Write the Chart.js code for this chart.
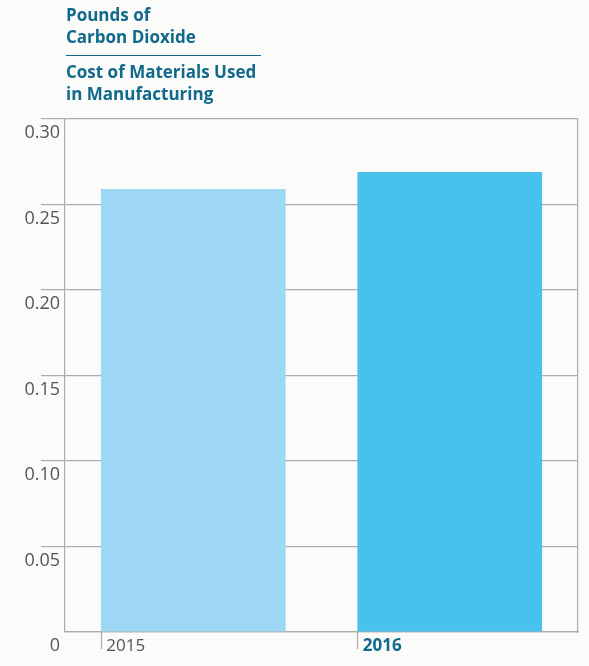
<!DOCTYPE html>
<html>
<head>
<meta charset="utf-8">
<script src="https://cdn.jsdelivr.net/npm/chart.js@4.4.1/dist/chart.umd.min.js"></script>
<style>
  body { margin: 0; background: #fbfbf9; }
  #wrap { position: relative; width: 589px; height: 666px; }
  #title {
    position: absolute; left: 66px; top: 4px;
    font-family: 'Open Sans', sans-serif; font-weight: bold;
    font-size: 17px; line-height: 22px; color: #11698c;
  }
  #title .sep { width: 195px; border-top: 1.5px solid #11698c; margin: 7px 0 5px; }
  canvas { position: absolute; left: 0; top: 0; }
</style>
</head>
<body>
<div id="wrap">
  <canvas id="chart" width="589" height="666"></canvas>
  <div id="title">
    <div>Pounds of<br>Carbon Dioxide</div>
    <div class="sep"></div>
    <div>Cost of Materials Used<br>in Manufacturing</div>
  </div>
</div>
<script>
// data
const years = ['2015', '2016'];
const co2PerCost = [0.259, 0.269];
const barColours = ['#9dd7f3', '#49c1ed'];
const yTicks = [0, 0.05, 0.10, 0.15, 0.20, 0.25, 0.30];

const GRID = '#acacac';
const TEAL = '#11698c';
const FONT = 'Open Sans';

// small tick marks under the x axis at the left edge of each bar
const yearTicks = {
  id: 'yearTicks',
  afterDatasetsDraw(chart) {
    const { ctx, chartArea } = chart;
    ctx.save();
    ctx.strokeStyle = GRID;
    ctx.lineWidth = 1.2;
    chart.getDatasetMeta(0).data.forEach(bar => {
      const x = Math.round(bar.x - bar.width / 2) + 0.5;
      ctx.beginPath();
      ctx.moveTo(x, chartArea.bottom);
      ctx.lineTo(x, chartArea.bottom + 17);
      ctx.stroke();
    });
    ctx.restore();
  }
};

new Chart(document.getElementById('chart'), {
  type: 'bar',
  data: {
    labels: years,
    datasets: [{
      data: co2PerCost,
      backgroundColor: barColours,
      borderWidth: 0,
      barPercentage: 0.72,
      categoryPercentage: 1
    }]
  },
  options: {
    responsive: false,
    animation: false,
    layout: { padding: { top: 119, right: 11, left: 0, bottom: 0 } },
    plugins: { legend: { display: false }, tooltip: { enabled: false } },
    scales: {
      x: {
        grid: { display: false, drawTicks: false },
        border: { display: true, color: GRID, width: 1.2 },
        ticks: {
          align: 'start',
          labelOffset: -87,
          padding: 4,
          font: ctx => ({ family: FONT, size: 17, weight: ctx.index === 1 ? 'bold' : 'normal' }),
          color: ctx => ctx.index === 1 ? TEAL : '#555'
        },
        afterFit: s => { s.height = 34; s.paddingLeft = 0; s.paddingRight = 0; }
      },
      y: {
        min: 0,
        max: 0.3,
        afterBuildTicks: s => { s.ticks = yTicks.map(v => ({ value: v })); },
        grid: {
          color: GRID,
          lineWidth: 1.2,
          tickLength: 24,
          tickColor: ctx => ctx.tick && ctx.tick.value === 0 ? 'rgba(0,0,0,0)' : GRID
        },
        border: { display: true, color: GRID, width: 1.2 },
        ticks: {
          padding: -19,
          labelOffset: 14,
          font: { family: FONT, size: 18 },
          color: '#555',
          callback: v => v === 0 ? '0' : v.toFixed(2)
        },
        afterFit: s => { s.width = 65; s.paddingTop = 0; s.paddingBottom = 0; }
      },
      yRight: {
        position: 'right',
        min: 0,
        max: 0.3,
        grid: { drawOnChartArea: false, drawTicks: false },
        border: { display: true, color: GRID, width: 1.2 },
        ticks: { display: false },
        afterFit: s => { s.width = 0; s.paddingTop = 0; s.paddingBottom = 0; }
      }
    }
  },
  plugins: [yearTicks]
});
</script>
</body>
</html>
